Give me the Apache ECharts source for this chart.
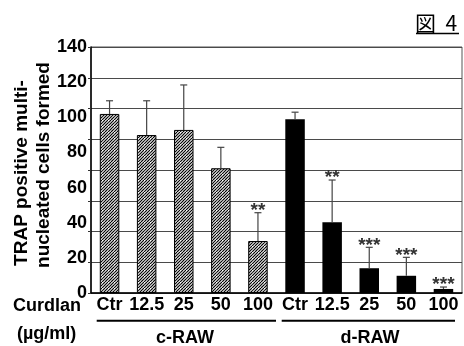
<!DOCTYPE html>
<html>
<head>
<meta charset="utf-8">
<script src="https://cdn.jsdelivr.net/npm/echarts@6/dist/echarts.min.js"></script>
<style>
  html, body { margin: 0; padding: 0; background: #fff; }
  #chart { width: 464px; height: 346px; }
</style>
</head>
<body>
<div id="chart"></div>
<script>
// data
var doseLabels = ["Ctr", "12.5", "25", "50", "100", "Ctr", "12.5", "25", "50", "100"];
var cellMeans = [101.9, 89.9, 92.8, 71.0, 29.6, 98.9, 40.2, 14.1, 9.8, 2.3];
var cellErrors = [7.5, 19.5, 25.6, 11.9, 16.1, 4.0, 24.1, 11.9, 10.5, 1.1];
var starMarks = ["", "", "", "", "**", "", "**", "***", "***", "***"];
var groupNames = ["c-RAW", "d-RAW"];
var yTickLabels = [0, 20, 40, 60, 80, 100, 120, 140];

var FONT = "Liberation Sans, Arial, sans-serif";

// hatch pattern for the c-RAW bars (////)
var hatch = document.createElement("canvas");
hatch.width = 6;
hatch.height = 6;
var hctx = hatch.getContext("2d");
hctx.fillStyle = "#fff";
hctx.fillRect(0, 0, 6, 6);
hctx.strokeStyle = "#000";
hctx.lineWidth = 1.2;
for (var k = -3; k <= 6; k += 3) {
  hctx.beginPath();
  hctx.moveTo(k, 6);
  hctx.lineTo(k + 6, 0);
  hctx.stroke();
}

var barData = cellMeans.map(function (v, i) {
  return {
    value: v,
    itemStyle: i < 5
      ? { color: { image: hatch, repeat: "repeat" }, borderColor: "#000", borderWidth: 1 }
      : { color: "#000" }
  };
});

var errData = cellMeans.map(function (v, i) {
  return [i, v, cellErrors[i]];
});

var myChart = echarts.init(document.getElementById("chart"));

var option = {
  animation: false,
  grid: {
    left: 91,
    right: 2,
    top: 47,
    bottom: 53,
    show: true,
    borderColor: "#555",
    borderWidth: 1
  },
  xAxis: {
    type: "category",
    data: doseLabels,
    axisLine: { lineStyle: { color: "#000", width: 1.5 } },
    axisTick: { show: false },
    axisLabel: {
      interval: 0,
      margin: 3,
      color: "#000",
      fontFamily: FONT,
      fontWeight: "bold",
      fontSize: 18
    }
  },
  yAxis: [
    {
      // grid lines / ticks
      type: "value",
      min: 0,
      max: 140,
      interval: 17.5,
      axisLabel: { show: false },
      axisLine: { show: true, lineStyle: { color: "#000", width: 1.5 } },
      axisTick: { show: true, length: 3, lineStyle: { color: "#333" } },
      splitLine: { lineStyle: { color: "#4a4a4a", width: 1.2 } }
    },
    {
      // tick labels
      type: "value",
      position: "left",
      min: 0,
      max: 140,
      interval: 20,
      axisLine: { show: false },
      axisTick: { show: false },
      splitLine: { show: false },
      axisLabel: {
        margin: 4,
        color: "#000",
        fontFamily: FONT,
        fontWeight: "bold",
        fontSize: 18,
        formatter: function (v) {
          return yTickLabels.indexOf(v) >= 0 ? String(v) : "";
        }
      }
    }
  ],
  series: [
    {
      type: "bar",
      barWidth: 19.5,
      data: barData
    },
    {
      type: "custom",
      z: 3,
      data: errData,
      renderItem: function (params, api) {
        var x = api.value(0);
        var m = api.value(1);
        var e = api.value(2);
        var p0 = api.coord([x, m]);
        var p1 = api.coord([x, m + e]);
        var st = { stroke: "#444", lineWidth: 1.2 };
        var children = [
          { type: "line", shape: { x1: p0[0], y1: p0[1], x2: p1[0], y2: p1[1] }, style: st },
          { type: "line", shape: { x1: p1[0] - 3.5, y1: p1[1], x2: p1[0] + 3.5, y2: p1[1] }, style: st }
        ];
        var s = starMarks[params.dataIndex];
        if (s) {
          children.push({
            type: "text",
            style: {
              x: p1[0],
              y: p1[1] - 2,
              text: s,
              fill: "#333",
              font: "bold 19px " + FONT,
              textAlign: "center",
              textVerticalAlign: "middle"
            }
          });
        }
        return { type: "group", children: children };
      }
    }
  ],
  graphic: [
    {
      type: "text",
      x: 415,
      y: 23,
      style: {
        text: "図  4",
        fill: "#000",
        font: "21px 'Noto Sans CJK JP'",
        textVerticalAlign: "middle"
      }
    },
    { type: "line", shape: { x1: 416, y1: 33.5, x2: 459, y2: 33.5 }, style: { stroke: "#000", lineWidth: 1.5 } },
    {
      type: "text",
      x: 21.7,
      y: 173,
      rotation: Math.PI / 2,
      style: {
        text: "TRAP positive multi-",
        fill: "#000",
        font: "bold 19px " + FONT,
        textAlign: "center",
        textVerticalAlign: "middle"
      }
    },
    {
      type: "text",
      x: 43.3,
      y: 165,
      rotation: Math.PI / 2,
      style: {
        text: "nucleated cells formed",
        fill: "#000",
        font: "bold 19px " + FONT,
        textAlign: "center",
        textVerticalAlign: "middle"
      }
    },
    {
      type: "text",
      x: 13,
      y: 306,
      style: { text: "Curdlan", fill: "#000", font: "bold 18px " + FONT, textVerticalAlign: "middle" }
    },
    {
      type: "text",
      x: 17,
      y: 334,
      style: { text: "(µg/ml)", fill: "#000", font: "bold 18px " + FONT, textVerticalAlign: "middle" }
    },
    { type: "line", shape: { x1: 96.7, y1: 320.7, x2: 276, y2: 320.7 }, style: { stroke: "#000", lineWidth: 2 } },
    { type: "line", shape: { x1: 281.7, y1: 320.7, x2: 455, y2: 320.7 }, style: { stroke: "#000", lineWidth: 2 } },
    {
      type: "text",
      x: 185,
      y: 338,
      style: { text: groupNames[0], fill: "#000", font: "bold 18px " + FONT, textAlign: "center", textVerticalAlign: "middle" }
    },
    {
      type: "text",
      x: 370,
      y: 338,
      style: { text: groupNames[1], fill: "#000", font: "bold 18px " + FONT, textAlign: "center", textVerticalAlign: "middle" }
    }
  ]
};

myChart.setOption(option);
</script>
</body>
</html>
